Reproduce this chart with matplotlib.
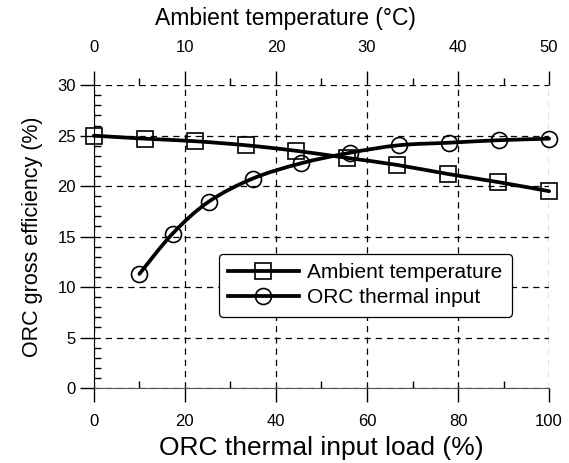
import matplotlib; matplotlib.use('Agg')
import matplotlib.pyplot as plt
from matplotlib.path import Path
from matplotlib.patches import PathPatch
from matplotlib.lines import Line2D
from matplotlib.ticker import MultipleLocator
import numpy as np

plt.rcParams['font.family'] = ['Liberation Sans', 'DejaVu Sans']

# ambient temperature series (top axis, degC)
amb_temp = [0, 5.6, 11.1, 16.7, 22.2, 27.8, 33.3, 38.9, 44.4, 50]
amb_eff = [25.0, 24.7, 24.45, 24.05, 23.5, 22.8, 22.1, 21.2, 20.4, 19.5]
# ORC thermal input series (bottom axis, %)
load = [10, 17.3, 25.2, 34.9, 45.4, 56.2, 67, 78, 89, 100]
load_eff = [11.3, 15.3, 18.45, 20.75, 22.25, 23.3, 24.05, 24.3, 24.55, 24.7]

LW = 2.7

def smooth(ax, xs, ys):
    # Catmull-Rom curve drawn as cubic bezier path through the data
    p = np.column_stack([xs, ys]).astype(float)
    pts = np.vstack([p[0], p, p[-1]])
    verts, codes = [tuple(p[0])], [Path.MOVETO]
    for i in range(1, len(pts) - 2):
        c1 = pts[i] + (pts[i+1] - pts[i-1]) / 6
        c2 = pts[i+1] - (pts[i+2] - pts[i]) / 6
        verts += [tuple(c1), tuple(c2), tuple(pts[i+1])]
        codes += [Path.CURVE4] * 3
    ax.add_patch(PathPatch(Path(verts, codes), fc='none', ec='black', lw=LW,
                           capstyle='round', joinstyle='round', zorder=3, clip_on=False))

fig = plt.figure(figsize=(5.69, 4.63), dpi=100)
ax = fig.add_axes([0.165, 0.162, 0.80, 0.654])
ax.set_xlim(0, 100); ax.set_ylim(0, 30)

for s in ['top', 'right']: ax.spines[s].set_visible(False)
ax.spines['bottom'].set_color('#555555')
ax.spines['left'].set_color('black')

ax.xaxis.set_major_locator(MultipleLocator(20))
ax.xaxis.set_minor_locator(MultipleLocator(10))
ax.yaxis.set_major_locator(MultipleLocator(5))
ax.yaxis.set_minor_locator(MultipleLocator(1))
ax.tick_params(which='major', direction='out', length=10, width=1, labelsize=12, pad=3)
ax.tick_params(which='minor', direction='in', length=5, width=1)
ax.tick_params(axis='x', which='major', pad=9)
ax.grid(True, which='major', color='black', ls=(0, (5, 4)), lw=0.9)
ax.set_xlabel('ORC thermal input load (%)', fontsize=19, labelpad=5)
ax.set_ylabel('ORC gross efficiency (%)', fontsize=15.5, labelpad=10)

ax2 = ax.twiny()
ax2.set_xlim(0, 50)
for s in ['top', 'right', 'left', 'bottom']: ax2.spines[s].set_visible(False)
ax2.xaxis.set_major_locator(MultipleLocator(10))
ax2.xaxis.set_minor_locator(MultipleLocator(5))
ax2.tick_params(which='major', direction='out', length=10, width=1, labelsize=12, pad=12)
ax2.tick_params(which='minor', direction='out', length=5, width=1)
ax2.set_xlabel('Ambient temperature (\u00b0C)', fontsize=16.5)
ax2.xaxis.set_label_coords(0.42, 1.198)

smooth(ax2, amb_temp, amb_eff)
smooth(ax, load, load_eff)
ms = 11.5
ax2.plot(amb_temp, amb_eff, ls='none', marker='s', ms=ms, mfc='none', mec='black', mew=1.2,
         zorder=4, clip_on=False)
ax.plot(load, load_eff, ls='none', marker='o', ms=ms, mfc='none', mec='black', mew=1.2,
        zorder=4, clip_on=False)

handles = [Line2D([], [], color='black', lw=LW, marker='s', ms=ms, mfc='none', mec='black', mew=1.2),
           Line2D([], [], color='black', lw=LW, marker='o', ms=ms, mfc='none', mec='black', mew=1.2)]
leg = ax.legend(handles, ['Ambient temperature', 'ORC thermal input'], loc='center',
                bbox_to_anchor=(0.596, 0.34), fontsize=15, frameon=True, fancybox=True,
                framealpha=1, edgecolor='black', handlelength=3.4, borderpad=0.45,
                labelspacing=0.3, handletextpad=0.4, borderaxespad=0)
leg.get_frame().set_linewidth(0.9)

fig.savefig('out.png', dpi=100)
